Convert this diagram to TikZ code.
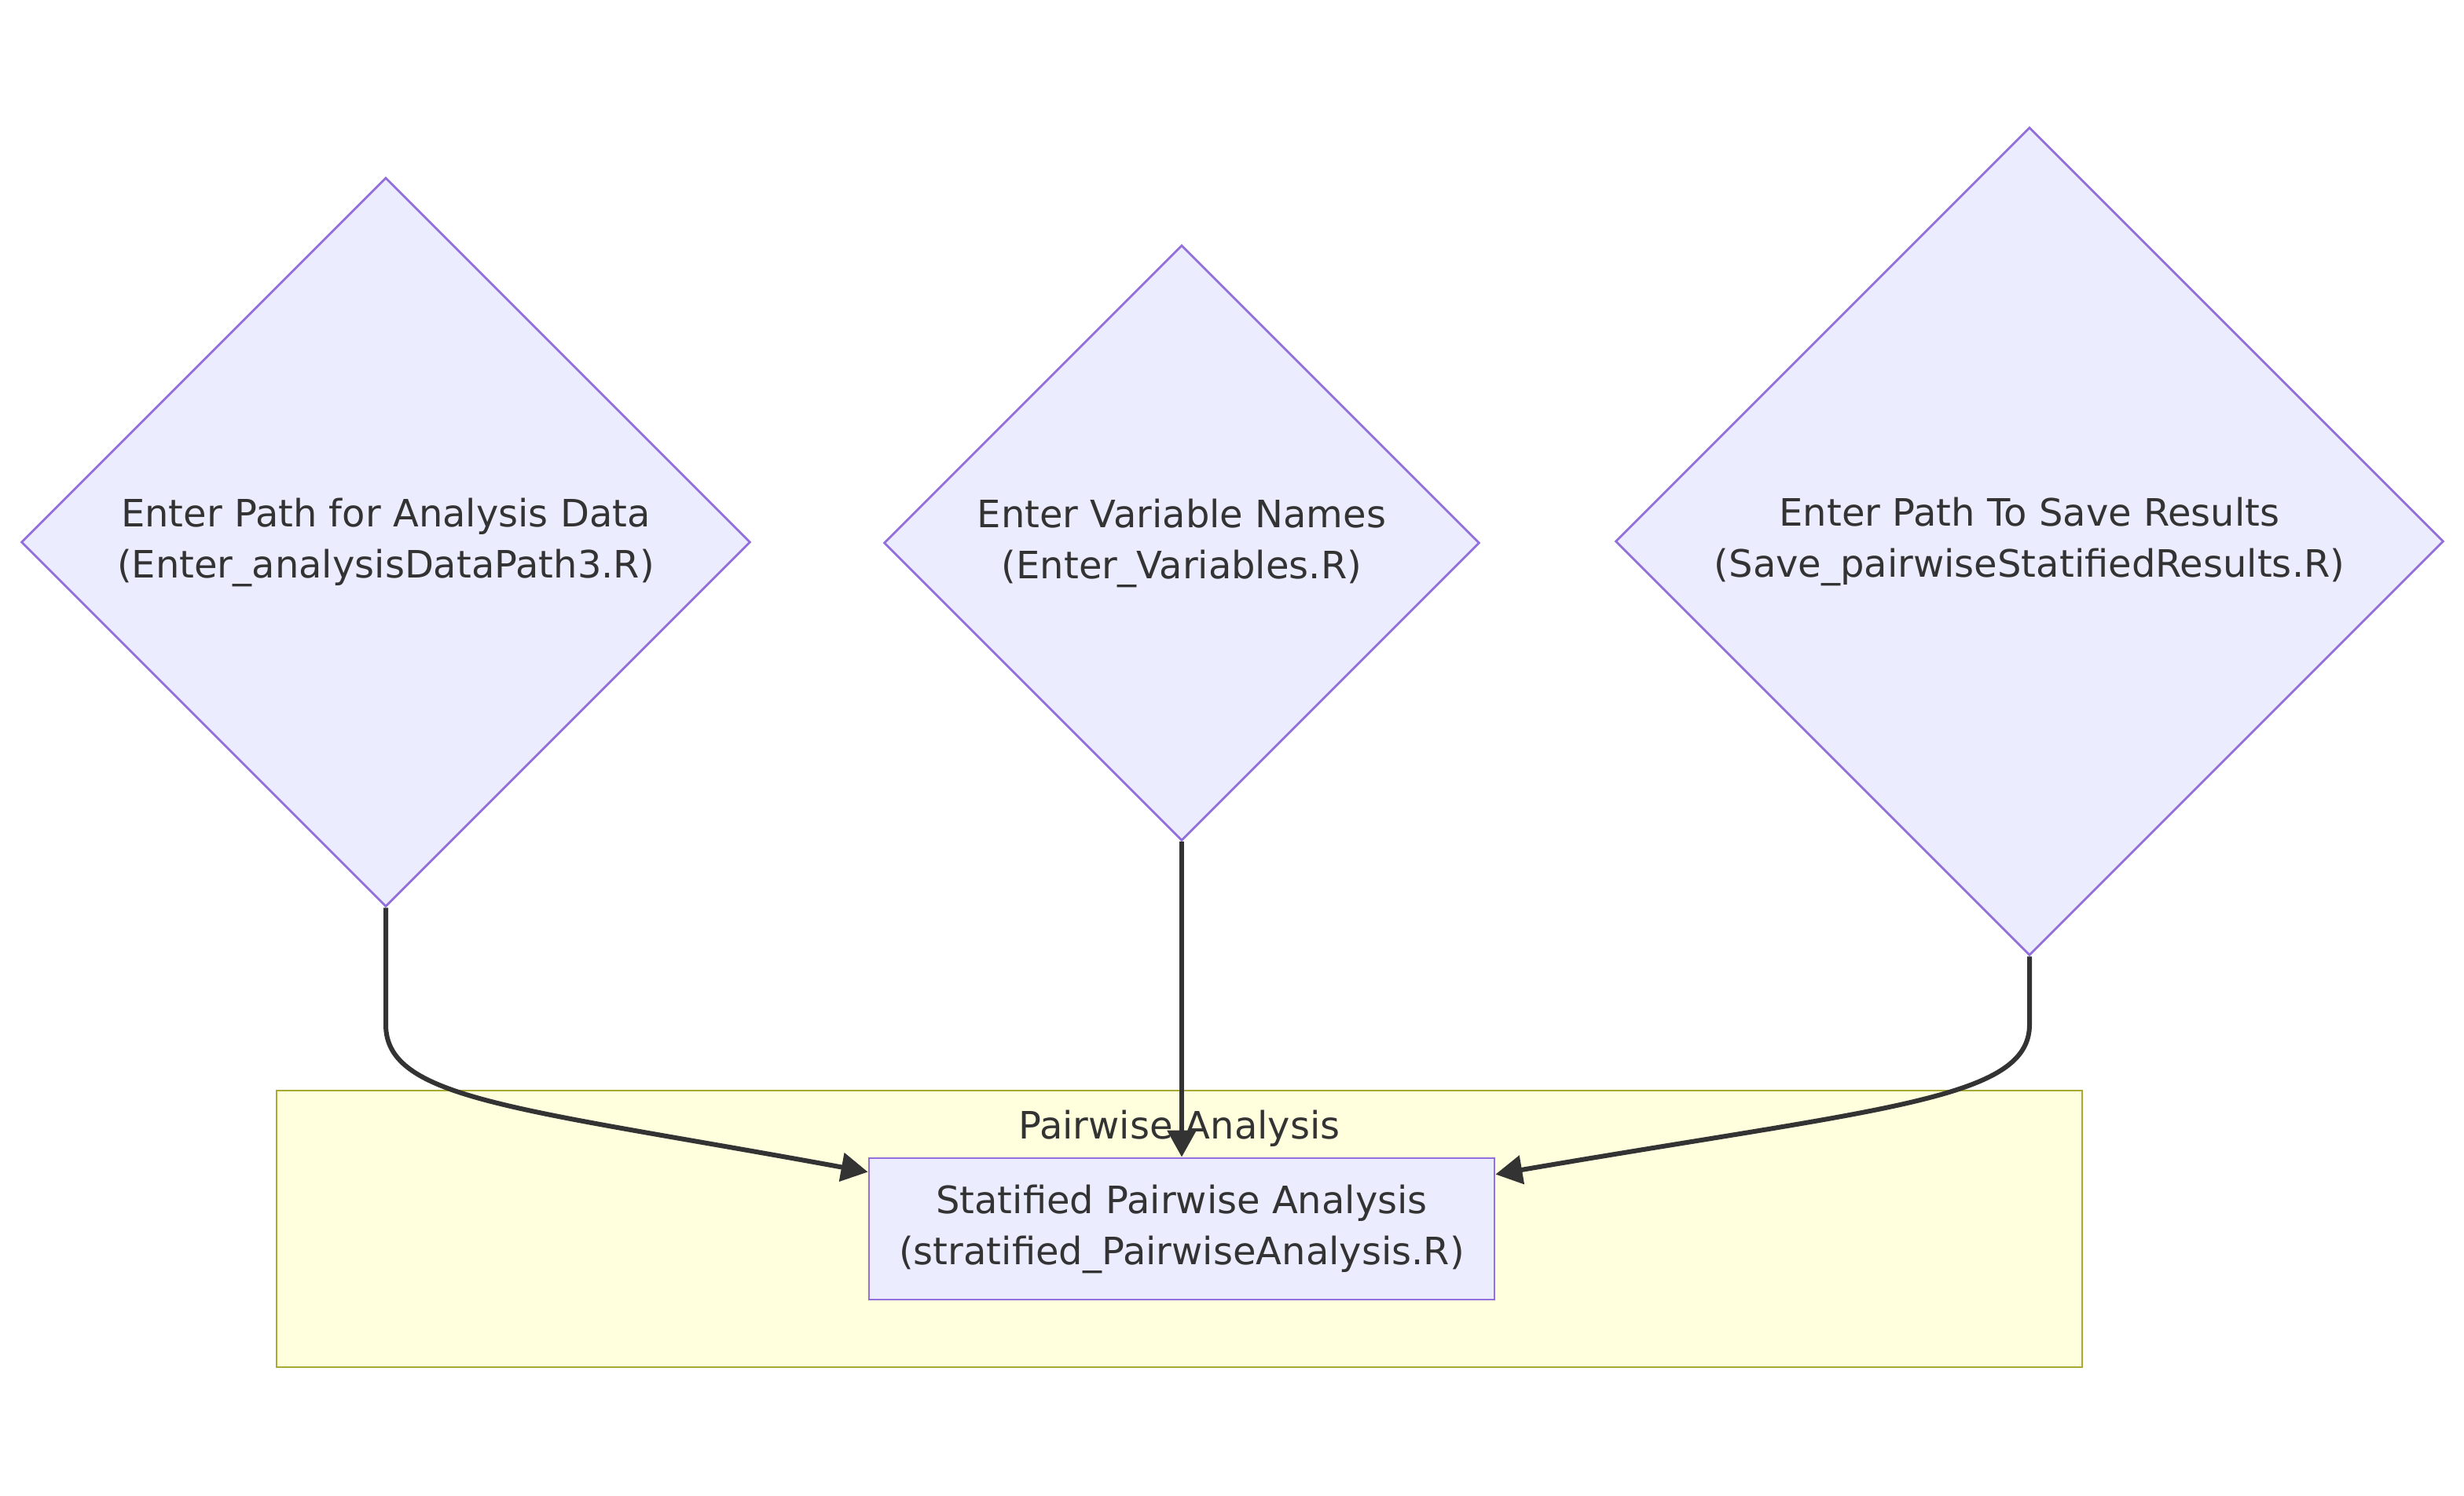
\documentclass[tikz,border=0pt]{standalone}
\usepackage{fontspec}
\setmainfont{DejaVu Sans}
\usetikzlibrary{shapes.geometric,arrows.meta}
\definecolor{nodefill}{HTML}{ECECFF}
\definecolor{nodeline}{HTML}{9370DB}
\definecolor{clfill}{HTML}{FFFFDE}
\definecolor{clline}{HTML}{AAAA33}
\definecolor{ink}{HTML}{333333}
\begin{document}
\begin{tikzpicture}[x=1pt,y=-1pt,
 txt/.style={font=\fontsize{24}{32.5}\selectfont, text=ink, align=center},
 decision/.style={txt, shape=diamond, draw=nodeline, fill=nodefill, line width=1.4pt, inner sep=0pt, aspect=1},
 procbox/.style={txt, draw=nodeline, fill=nodefill, line width=1.4pt, inner sep=0pt, minimum width=398pt, minimum height=90pt},
 cluster/.style={draw=clline, fill=clfill, line width=1.4pt, minimum width=1149pt, minimum height=176pt, inner sep=0pt},
 flow/.style={draw=ink, line width=3pt, -{Triangle[length=17pt,width=18pt]}}]
\useasboundingbox (0,0) rectangle (1568,952);
\node[cluster] (grp) at (750.5,782) {};
\node[txt] (grplabel) at (750.5,718) {Pairwise Analysis};
\node[decision, minimum width=464pt, minimum height=464pt] (d1) at (245.5,345) {Enter Path for Analysis Data\\(Enter\_analysisDataPath3.R)};
\node[decision, minimum width=379pt, minimum height=379pt] (d2) at (752,345.5) {Enter Variable Names\\(Enter\_Variables.R)};
\node[decision, minimum width=527pt, minimum height=527pt] (d3) at (1291.5,344.5) {Enter Path To Save Results\\(Save\_pairwiseStatifiedResults.R)};
\node[procbox] (proc) at (752,782) {Statified Pairwise Analysis\\(stratified\_PairwiseAnalysis.R)};
\draw[flow] (d1.south) -- (245.5,652) .. controls (245.5,700) and (330,705) .. ([yshift=-9.5pt]proc.north west);
\draw[flow] (d2.south) -- (proc.north);
\draw[flow] (d3.south) -- (1291.5,652) .. controls (1291.5,700) and (1198,705) .. ([yshift=-11pt]proc.north east);
\end{tikzpicture}
\end{document}
